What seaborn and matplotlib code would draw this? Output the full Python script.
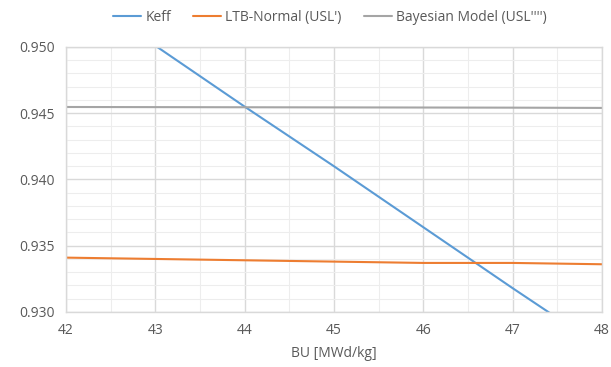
import numpy as np
import pandas as pd
import matplotlib
matplotlib.use("Agg")
import matplotlib.pyplot as plt
from matplotlib.ticker import MultipleLocator
import seaborn as sns

# data
bu = [42, 43, 44, 45, 46, 47, 48]
keff = [0.9546, 0.9501, 0.9455, 0.9410, 0.9364, 0.9318, 0.9273]
ltb_normal = [0.9341, 0.9340, 0.9339, 0.9338, 0.9337, 0.9337, 0.9336]
bayesian = [0.94547, 0.94546, 0.94545, 0.94544, 0.94543, 0.94542, 0.94540]

series_names = ["Keff", "LTB-Normal (USL')", "Bayesian Model (USL'''')"]
colors = ["#5B9BD5", "#ED7D31", "#A5A5A5"]

df = pd.DataFrame({
    "BU": bu * 3,
    "value": keff + ltb_normal + bayesian,
    "series": [series_names[0]] * 7 + [series_names[1]] * 7 + [series_names[2]] * 7,
})

sns.set_style("white")
plt.rcParams["font.family"] = ["Open Sans", "DejaVu Sans"]

fig = plt.figure(figsize=(6.11, 3.67), dpi=100)
ax = fig.add_axes([0.108, 0.150, 0.877, 0.722])

sns.lineplot(data=df, x="BU", y="value", hue="series", palette=colors,
             linewidth=1.5, ax=ax, legend=True)

ax.set_xlim(42, 48)
ax.set_ylim(0.930, 0.950)
ax.xaxis.set_major_locator(MultipleLocator(1))
ax.xaxis.set_minor_locator(MultipleLocator(0.5))
ax.yaxis.set_major_locator(MultipleLocator(0.005))
ax.yaxis.set_minor_locator(MultipleLocator(0.001))
ax.yaxis.set_major_formatter(matplotlib.ticker.FormatStrFormatter("%.3f"))

ax.grid(which="major", color="#D9D9D9", linewidth=1.0)
ax.grid(which="minor", color="#EDEDED", linewidth=0.8)
ax.set_axisbelow(True)
for s in ax.spines.values():
    s.set_color("#D9D9D9")
    s.set_linewidth(1.0)

ax.tick_params(axis="both", which="both", length=0, labelsize=10, colors="#595959", pad=8)
ax.set_xlabel("BU [MWd/kg]", fontsize=10, color="#595959", labelpad=6)
ax.set_ylabel("")

handles, labels = ax.get_legend_handles_labels()
ax.get_legend().remove()
fig.legend(handles, labels, loc="center", bbox_to_anchor=(0.54, 0.953), ncol=3,
           frameon=False, fontsize=10, labelcolor="#595959", handlelength=2.0,
           handletextpad=0.3, columnspacing=1.6)

fig.savefig("out.png", dpi=100)
